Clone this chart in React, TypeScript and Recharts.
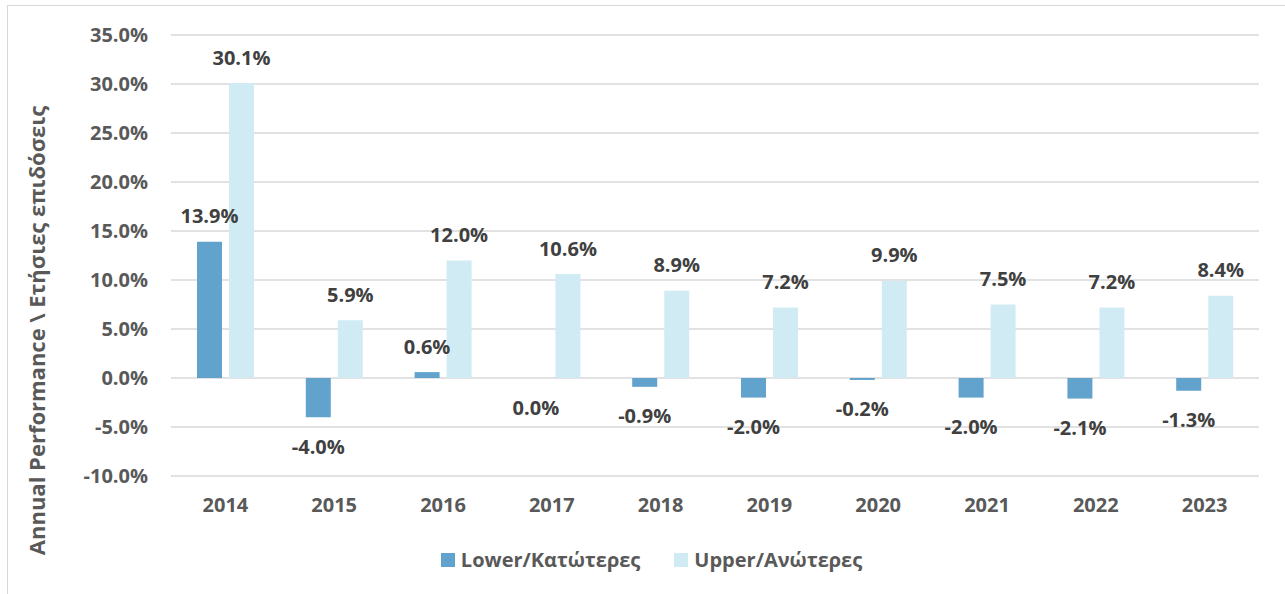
import { BarChart, Bar, XAxis, YAxis, CartesianGrid, Legend, LabelList } from "recharts";

const years = ["2014", "2015", "2016", "2017", "2018", "2019", "2020", "2021", "2022", "2023"];
const lowerValues = [13.9, -4.0, 0.6, 0.0, -0.9, -2.0, -0.2, -2.0, -2.1, -1.3];
const upperValues = [30.1, 5.9, 12.0, 10.6, 8.9, 7.2, 9.9, 7.5, 7.2, 8.4];
const yTicks = [-10, -5, 0, 5, 10, 15, 20, 25, 30, 35];

const LOWER_NAME = "Lower/Κατώτερες";
const UPPER_NAME = "Upper/Ανώτερες";
const LOWER_COLOR = "#62a3cd";
const UPPER_COLOR = "#d1ebf4";
const FONT = "'Open Sans', sans-serif";

const data = years.map((year, i) => ({
  year,
  lower: lowerValues[i],
  upper: upperValues[i],
}));

const renderValueLabel = (props: any) => {
  const { x, y, width, height, value } = props;
  const h = Number(height) || 0;
  const top = Math.min(y, y + h);
  const bottom = Math.max(y, y + h);
  const cx = x + width / 2;
  // zero sits below the axis, like the negatives
  const ty = value > 0 ? top - 26 : (value === 0 ? Math.max(y, y + h) : bottom) + 29;
  return (
    <text x={cx} y={ty} textAnchor="middle" dominantBaseline="central"
      style={{ fontSize: 20, fontWeight: 700, fill: "#404040", fontFamily: FONT }}>
      {`${Number(value).toFixed(1)}%`}
    </text>
  );
};

const renderLegend = () => (
  <div style={{ display: "flex", justifyContent: "center", alignItems: "center", gap: 34, fontFamily: FONT, paddingLeft: 44 }}>
    {[{ name: LOWER_NAME, color: LOWER_COLOR }, { name: UPPER_NAME, color: UPPER_COLOR }].map((item) => (
      <div key={item.name} style={{ display: "flex", alignItems: "center" }}>
        <span style={{ width: 14, height: 14, background: item.color, display: "inline-block", marginRight: 6 }} />
        <span style={{ fontSize: 20, fontWeight: 700, color: "#595959" }}>{item.name}</span>
      </div>
    ))}
  </div>
);

export default function App() {
  return (
    <div style={{ position: "absolute", left: 0, top: 0, width: 1285, height: 594, background: "#fff", overflow: "hidden" }}>
      <div style={{ position: "absolute", left: 7, top: 5, width: 1300, height: 620, border: "1px solid #d9d9d9" }} />
      <div style={{ position: "absolute", left: 0, top: 0 }}>
        <BarChart width={1285} height={594} data={data}
          margin={{ top: 35, right: 26, left: 0, bottom: 24 }}
          barCategoryGap={26} barGap={7}>
          <CartesianGrid vertical={false} stroke="#d9d9d9" strokeWidth={1.5} />
          <XAxis dataKey="year" axisLine={false} tickLine={false} tickSize={0} tickMargin={22} height={70}
            tick={{ fontSize: 20, fontWeight: 700, fill: "#595959", fontFamily: FONT }} />
          <YAxis width={171} domain={[-10, 35]} ticks={yTicks} axisLine={false} tickLine={false}
            tickSize={0} tickMargin={23} interval={0}
            tickFormatter={(v: number) => `${v.toFixed(1)}%`}
            tick={{ fontSize: 20, fontWeight: 700, fill: "#595959", fontFamily: FONT }}
            label={{
              value: "Annual Performance \\ Ετήσιες επιδόσεις",
              angle: -90,
              position: "insideLeft",
              dx: 32,
              dy: 75,
              style: { fontSize: 22, fontWeight: 700, fill: "#595959", fontFamily: FONT, textAnchor: "middle" },
            }} />
          <Legend verticalAlign="bottom" height={24} content={renderLegend} />
          <Bar dataKey="lower" name={LOWER_NAME} fill={LOWER_COLOR} isAnimationActive={false}
            minPointSize={(v: number) => (v === 0 ? 0.01 : 0)}>
            <LabelList dataKey="lower" content={renderValueLabel} />
          </Bar>
          <Bar dataKey="upper" name={UPPER_NAME} fill={UPPER_COLOR} isAnimationActive={false}>
            <LabelList dataKey="upper" content={renderValueLabel} />
          </Bar>
        </BarChart>
      </div>
    </div>
  );
}
